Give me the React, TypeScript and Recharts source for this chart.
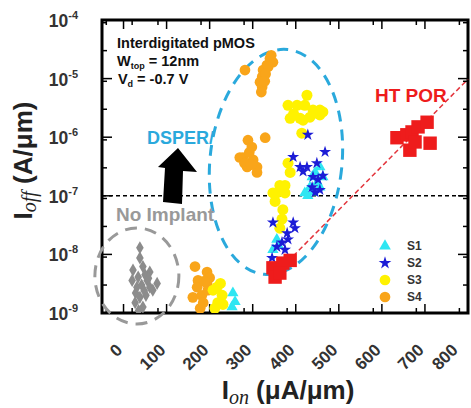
import React from 'react';
import {
  Legend,
  ReferenceArea,
  ReferenceDot,
  ReferenceLine,
  Scatter,
  ScatterChart,
  Symbols,
  XAxis,
  YAxis
} from 'recharts';

// Ion (uA/um), Ioff (A/um) pairs
const noImplant: [number, number][] = [
  [38, 1.3e-8], [38, 8.7e-9], [45, 6.2e-9], [22, 5.4e-9], [61, 5.0e-9], [34, 4.1e-9],
  [55, 3.6e-9], [20, 3.6e-9], [78, 3.2e-9], [31, 2.75e-9], [61, 2.75e-9], [68, 2.45e-9],
  [50, 4.5e-9], [42, 3.0e-9], [28, 2.2e-9], [52, 2.0e-9], [38, 1.85e-9], [27, 1.5e-9],
  [45, 1.26e-9], [35, 1.1e-9], [58, 3.9e-9], [48, 2.4e-9]
];

const s4: [number, number][] = [
  [282, 1.4e-5], [340, 2.2e-5], [347, 1.9e-5], [333, 1.7e-5], [324, 1.4e-5], [322, 1.07e-5],
  [317, 8.7e-6], [322, 7.2e-6], [336, 1.6e-5], [320, 5.9e-6], [330, 1.2e-5], [343, 2.5e-5], [328, 9e-6],
  [289, 8.9e-7], [329, 9.8e-7], [277, 4.5e-7], [301, 4.1e-7], [287, 3.1e-7], [310, 2.5e-7],
  [298, 6.8e-7], [310, 3.1e-7], [270, 4.5e-7], [292, 5.5e-7], [281, 3.6e-7], [296, 3.4e-7],
  [166, 6.2e-9], [194, 5.0e-9], [173, 3.6e-9], [194, 3.2e-9], [161, 1.85e-9], [182, 2.0e-9],
  [178, 1.2e-9], [196, 2.45e-9], [171, 2.75e-9], [185, 1.5e-9], [200, 4.0e-9], [188, 3.5e-9]
];

const s3: [number, number][] = [
  [426, 5.2e-6], [382, 3.5e-6], [403, 3.5e-6], [421, 3.5e-6], [440, 2.9e-6], [456, 2.9e-6],
  [387, 2.1e-6], [410, 2.1e-6], [433, 2.2e-6], [456, 2.4e-6], [417, 1.95e-6], [414, 1.17e-6],
  [395, 2.5e-6], [445, 2.6e-6], [463, 2.7e-6],
  [382, 3.6e-7], [387, 2.5e-7], [375, 1.5e-7], [356, 1.12e-7], [363, 1.5e-7], [375, 1.12e-7],
  [347, 1.12e-7], [370, 5.8e-8], [363, 2.8e-8], [352, 8e-8], [368, 4e-8],
  [217, 2.75e-9], [229, 2.0e-9], [219, 1.5e-9], [208, 2.45e-9], [231, 1.4e-9], [225, 3.2e-9], [212, 1.2e-9]
];

const s1: [number, number][] = [
  [456, 3.1e-7], [438, 2.1e-7], [463, 2.1e-7], [433, 1.4e-7], [456, 1.4e-7], [440, 1.15e-7],
  [421, 1.12e-7], [445, 2.5e-7], [428, 1.0e-7], [450, 1.7e-7],
  [356, 1.8e-8], [347, 1.2e-8], [360, 1.4e-8],
  [254, 2.2e-9], [259, 1.55e-9], [252, 1.26e-9]
];

const s2: [number, number][] = [
  [428, 1.1e-6], [394, 4.6e-7], [468, 5.6e-7], [449, 3.6e-7], [410, 3.1e-7], [426, 3.1e-7],
  [417, 2.6e-7], [463, 2.2e-7], [440, 2.1e-7], [452, 1.9e-7], [438, 1.4e-7], [456, 1.26e-7], [445, 1.15e-7],
  [347, 3.5e-8], [394, 3.5e-8], [380, 2.3e-8], [368, 1.6e-8], [356, 1.35e-8], [382, 1.8e-8],
  [345, 8.7e-9], [398, 2.8e-8], [375, 1.2e-8]
];

const htPor: [number, number][] = [
  [347, 5.9e-9], [370, 7.1e-9], [387, 7.9e-9], [352, 4.1e-9], [363, 4.8e-9],
  [635, 9.8e-7], [658, 1.1e-6], [670, 1.23e-6], [684, 1.5e-6], [705, 1.8e-6],
  [665, 6.0e-7], [712, 7.9e-7], [677, 8.3e-7]
];

const ionTicks = [0, 100, 200, 300, 400, 500, 600, 700, 800];
const ionMinor = Array.from({ length: 42 }, (_, i) => -40 + i * 20).filter((v) => v % 100 !== 0);
const ioffTicks = [1e-9, 1e-8, 1e-7, 1e-6, 1e-5, 1e-4];
const ioffMinor = ioffTicks.slice(0, -1).flatMap((d) => [2, 3, 4, 5, 6, 7, 8, 9].map((k) => k * d));

const ionDomain = [-50, 800];
const ioffDomain = [1e-9, 1e-4];

// chart-level rows so the tick-only axes get a domain
const frameCorners = [{ x: -50, y: 1e-9 }, { x: 800, y: 1e-4 }];

const sans = '"Liberation Sans", Arial, sans-serif';
const serif = '"Liberation Serif", "Times New Roman", serif';

const toPoints = (rows: [number, number][]) => rows.map(([x, y]) => ({ x, y }));

const marker = (type: any, size: number, fill: string) => (p: any) =>
  <Symbols cx={p.cx} cy={p.cy} type={type} size={size} fill={fill} />;

const NoLabel = () => <g />;

const XTick = ({ x, y, payload }: any) => (
  <text
    x={x}
    y={y + 30}
    transform={`rotate(-45 ${x} ${y + 30})`}
    textAnchor="end"
    fontFamily={sans}
    fontWeight="bold"
    fontSize={17}
    fill="#333"
  >
    {payload.value}
  </text>
);

const YTick = ({ x, y, payload }: any) => (
  <text x={x - 16} y={y + 7} textAnchor="end" fontFamily={sans} fontWeight="bold" fill="#333">
    <tspan fontSize={17.5}>10</tspan>
    <tspan fontSize={11} dy={-8}>{Math.round(Math.log10(payload.value))}</tspan>
  </text>
);

const XTitle = ({ viewBox }: any) => (
  <text
    x={viewBox.x + viewBox.width / 2 + 3}
    y={viewBox.y + 86}
    textAnchor="middle"
    fontFamily={sans}
    fontWeight="bold"
    fontSize={26}
    fill="#222"
  >
    <tspan>I</tspan>
    <tspan fontFamily={serif} fontStyle="italic" fontWeight="normal" fontSize={20} dy={5}>on</tspan>
    <tspan dy={-5}> (μA/μm)</tspan>
  </text>
);

const YTitle = ({ viewBox }: any) => {
  const cx = viewBox.x + 32;
  const cy = viewBox.y + viewBox.height / 2 - 6;
  return (
    <text
      transform={`translate(${cx},${cy}) rotate(-90)`}
      textAnchor="middle"
      fontFamily={sans}
      fontWeight="bold"
      fontSize={26}
      fill="#222"
    >
      <tspan>I</tspan>
      <tspan fontFamily={serif} fontStyle="italic" fontWeight="normal" fontSize={20} dy={4}>off</tspan>
      <tspan dy={-4}> (A/μm)</tspan>
    </text>
  );
};

const legendSize: Record<string, number> = { triangle: 60, star: 50, circle: 90 };

const LegendBox = ({ payload }: any) => (
  <div>
    {[...(payload || [])]
      .filter((item: any) => item.type !== 'none')
      .sort((a: any, b: any) => String(a.value).localeCompare(String(b.value)))
      .map((item: any) => (
        <div key={item.value} style={{ display: 'flex', alignItems: 'center', height: 17 }}>
          <svg width={24} height={16}>
            <Symbols cx={12} cy={8} type={item.type} size={legendSize[item.type] || 80} fill={item.color} />
          </svg>
          <span style={{ marginLeft: 10, font: `bold 12px ${sans}`, color: '#333' }}>{item.value}</span>
        </div>
      ))}
  </div>
);

const note = (content: React.ReactNode) => (p: any) => (
  <text x={p.cx} y={p.cy} fontFamily={sans} fontWeight="bold" fontSize={14.5} fill="#111">
    {content}
  </text>
);

const colored = (label: string, fill: string, size: number) => (p: any) => (
  <text x={p.cx} y={p.cy} fontFamily={sans} fontWeight="bold" fontSize={size} fill={fill}>
    {label}
  </text>
);

const ring = (rx: number, ry: number, tilt: number, stroke: string, dash: string) => (p: any) => (
  <ellipse
    cx={p.cx}
    cy={p.cy}
    rx={rx}
    ry={ry}
    transform={`rotate(${tilt} ${p.cx} ${p.cy})`}
    fill="none"
    stroke={stroke}
    strokeWidth={3}
    strokeDasharray={dash}
  />
);

const upArrow = (p: any) => (
  <polygon
    transform={`translate(${p.cx},${p.cy})`}
    points="0,0 -20,19 -13,20 -15,54 4,56 5,23 19,24"
    fill="#000"
  />
);

// inward tick marks on all four sides; near-zero thickness so they do not stack apart
const tickAxisProps = {
  type: 'number' as const,
  tick: NoLabel,
  axisLine: false,
  mirror: true,
  allowDataOverflow: true,
  stroke: '#000',
  tickLine: { stroke: '#000', strokeWidth: 1.5 }
};

export default function App() {
  return (
    <div style={{ position: 'absolute', left: 0, top: 0, width: 471, height: 408, background: '#fff' }}>
      <ScatterChart width={471} height={408} data={frameCorners} margin={{ top: 20, right: 3, bottom: 0, left: 0 }}>
        <XAxis xAxisId="bMaj" dataKey="x" orientation="bottom" height={0.01} domain={ionDomain} ticks={ionTicks} tickSize={9} {...tickAxisProps} />
        <XAxis xAxisId="bMin" dataKey="x" orientation="bottom" height={0.01} domain={ionDomain} ticks={ionMinor} tickSize={5} {...tickAxisProps} />
        <XAxis xAxisId="tMaj" dataKey="x" orientation="top" height={0.01} domain={ionDomain} ticks={ionTicks} tickSize={9} {...tickAxisProps} />
        <XAxis xAxisId="tMin" dataKey="x" orientation="top" height={0.01} domain={ionDomain} ticks={ionMinor} tickSize={5} {...tickAxisProps} />
        <YAxis yAxisId="lMaj" dataKey="y" orientation="left" width={0.01} scale="log" domain={ioffDomain} ticks={ioffTicks} tickSize={10} {...tickAxisProps} />
        <YAxis yAxisId="lMin" dataKey="y" orientation="left" width={0.01} scale="log" domain={ioffDomain} ticks={ioffMinor} tickSize={5} {...tickAxisProps} />
        <YAxis yAxisId="rMaj" dataKey="y" orientation="right" width={0.01} scale="log" domain={ioffDomain} ticks={ioffTicks} tickSize={10} {...tickAxisProps} />
        <YAxis yAxisId="rMin" dataKey="y" orientation="right" width={0.01} scale="log" domain={ioffDomain} ticks={ioffMinor} tickSize={5} {...tickAxisProps} />
        <XAxis
          type="number"
          dataKey="x"
          domain={ionDomain}
          ticks={ionTicks}
          allowDataOverflow
          height={95}
          axisLine={false}
          tickLine={false}
          tick={<XTick />}
          label={XTitle}
        />
        <YAxis
          type="number"
          dataKey="y"
          scale="log"
          domain={ioffDomain}
          ticks={ioffTicks}
          allowDataOverflow
          width={102}
          axisLine={false}
          tickLine={false}
          tick={<YTick />}
          label={YTitle}
        />

        <ReferenceLine y={1e-7} stroke="#000" strokeWidth={1.5} strokeDasharray="4 3" />
        <ReferenceLine
          segment={[{ x: 355, y: 4.8e-9 }, { x: 800, y: 9.8e-6 }]}
          stroke="#e3343c"
          strokeWidth={1.5}
          strokeDasharray="5 3"
          ifOverflow="visible"
        />

        <ReferenceDot x={354} y={3.78e-7} r={0} ifOverflow="visible" shape={ring(66, 113, 6, '#2aa9dc', '11 8')} />
        <ReferenceDot x={31} y={4.28e-9} r={0} ifOverflow="visible" shape={ring(42, 48, 0, '#999', '12 8')} />

        <Scatter name="No Implant" data={toPoints(noImplant)} legendType="none" shape={marker('diamond', 50, '#8c8c8c')} isAnimationActive={false} />
        <Scatter name="S4" data={toPoints(s4)} legendType="circle" fill="#f9a51a" shape={marker('circle', 90, '#f9a51a')} isAnimationActive={false} />
        <Scatter name="S3" data={toPoints(s3)} legendType="circle" fill="#fff200" shape={marker('circle', 95, '#fff200')} isAnimationActive={false} />
        <Scatter name="S1" data={toPoints(s1)} legendType="triangle" fill="#2ee6f2" shape={marker('triangle', 55, '#2ee6f2')} isAnimationActive={false} />
        <Scatter name="S2" data={toPoints(s2)} legendType="star" fill="#1c1cd6" shape={marker('star', 45, '#1c1cd6')} isAnimationActive={false} />
        <Scatter name="HT POR" data={toPoints(htPor)} legendType="none" shape={marker('square', 180, '#ee1c1c')} isAnimationActive={false} />

        <ReferenceArea x1={-50} x2={800} y1={1e-9} y2={1e-4} fill="none" stroke="#000" strokeWidth={3} ifOverflow="visible" />

        <ReferenceDot x={-15} y={3.33e-5} r={0} shape={note('Interdigitated pMOS')} />
        <ReferenceDot
          x={-15}
          y={1.64e-5}
          r={0}
          shape={note(
            <>
              <tspan>W</tspan>
              <tspan fontSize={9} dy={3}>top</tspan>
              <tspan dy={-3}> = 12nm</tspan>
            </>
          )}
        />
        <ReferenceDot
          x={-13}
          y={8.09e-6}
          r={0}
          shape={note(
            <>
              <tspan>V</tspan>
              <tspan fontSize={9} dy={3}>d</tspan>
              <tspan dy={-3}> = -0.7 V</tspan>
            </>
          )}
        />
        <ReferenceDot x={54.5} y={7.66e-7} r={0} shape={colored('DSPER/', '#2aa9dc', 18)} />
        <ReferenceDot x={-17.5} y={3.72e-8} r={0} shape={colored('No Implant', '#999', 19)} />
        <ReferenceDot x={584} y={3.99e-6} r={0} shape={colored('HT POR', '#ee1c1c', 19)} />
        <ReferenceDot x={126.5} y={6.55e-7} r={0} shape={upArrow} />

        <Legend
          layout="vertical"
          align="center"
          verticalAlign="middle"
          content={<LegendBox />}
          wrapperStyle={{ left: 373, top: 237, width: 60 }}
        />
      </ScatterChart>
    </div>
  );
}
